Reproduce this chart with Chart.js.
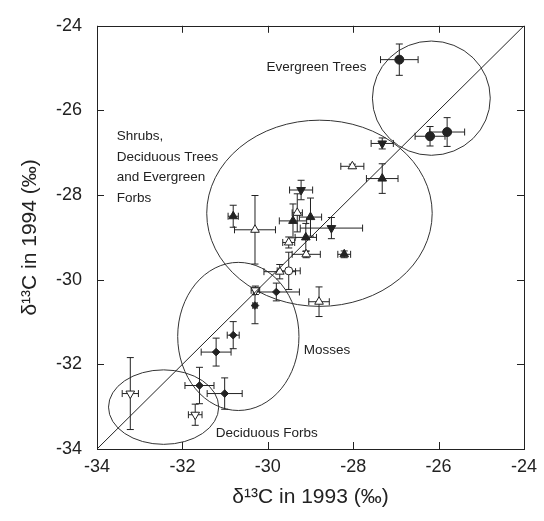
<!DOCTYPE html>
<html lang="en">
  <head>
    <meta charset="UTF-8" />
    <title>d13C 1993 vs 1994</title>
    <script src="https://cdn.jsdelivr.net/npm/chart.js"></script>
    <style>
      html, body { margin: 0; padding: 0; background: #fff; }
    </style>
  </head>
  <body>
    <div style="width: 544px; height: 521px">
      <canvas id="isoChart"></canvas>
    </div>
    <script>
      // axis range and ticks (per mil)
      const axisMin = -34;
      const axisMax = -24;
      const tickValues = [-34, -32, -30, -28, -26, -24];

      // evergreen trees (large filled circles)
      const evergreenX = [-26.92, -26.2, -25.8];
      const evergreenY = [-24.8, -26.61, -26.51];
      const evergreenXErr = [0.44, 0.35, 0.41];
      const evergreenYErr = [0.37, 0.23, 0.34];

      // filled up-triangles
      const filledUpX = [-27.32, -30.81, -29.41, -29.0, -29.11, -28.21];
      const filledUpY = [-27.61, -28.5, -28.61, -28.52, -29.0, -29.4];
      const filledUpXErr = [0.37, 0.12, 0.32, 0.26, 0.25, 0.15];
      const filledUpYErr = [0.35, 0.26, 0.4, 0.45, 0.33, 0.08];

      // filled down-triangles
      const filledDownX = [-27.32, -29.22, -28.51];
      const filledDownY = [-26.78, -27.88, -28.78];
      const filledDownXErr = [0.26, 0.27, 0.73];
      const filledDownYErr = [0.13, 0.23, 0.25];

      // open up-triangles
      const openUpX = [-28.02, -30.3, -29.31, -29.51, -29.1, -29.72, -28.8];
      const openUpY = [-27.32, -28.82, -28.42, -29.12, -29.4, -29.81, -30.52];
      const openUpXErr = [0.27, 0.48, 0.12, 0.14, 0.33, 0.37, 0.24];
      const openUpYErr = [0.05, 0.81, 0.45, 0.13, 0.08, 0.17, 0.35];

      // open circle
      const openCircleX = [-29.51];
      const openCircleY = [-29.79];
      const openCircleXErr = [0.27];
      const openCircleYErr = [0.44];

      // open down-triangles (deciduous forbs and one moss-line point)
      const openDownX = [-30.29, -33.22, -31.7];
      const openDownY = [-30.25, -32.69, -33.19];
      const openDownXErr = [0.1, 0.19, 0.16];
      const openDownYErr = [0.1, 0.85, 0.25];

      // mosses (filled diamonds)
      const mossX = [-29.8, -30.3, -30.81, -31.21, -31.6, -31.01];
      const mossY = [-30.29, -30.61, -31.31, -31.71, -32.5, -32.69];
      const mossXErr = [0.54, 0.05, 0.14, 0.35, 0.34, 0.41];
      const mossYErr = [0.21, 0.43, 0.32, 0.33, 0.43, 0.37];

      // group ellipses: centre x, centre y, radius x, radius y (data units)
      const groupEllipses = [
        [-26.17, -25.71, 1.38, 1.35],
        [-28.79, -28.43, 2.64, 2.2],
        [-30.69, -31.34, 1.42, 1.75],
        [-32.44, -33.01, 1.29, 0.88],
      ];

      // group labels: lines of text, left x, centre y of first line (data units)
      const groupLabels = [
        [["Evergreen Trees"], -30.03, -24.98],
        [["Shrubs,", "Deciduous Trees", "and Evergreen", "Forbs"], -33.54, -26.62],
        [["Mosses"], -29.16, -31.67],
        [["Deciduous Forbs"], -31.22, -33.62],
      ];

      const ink = "#222";

      function toPoints(xs, ys) {
        return xs.map((x, i) => ({ x: x, y: ys[i] }));
      }

      // datasets built from the arrays above
      const series = [
        { xs: evergreenX, ys: evergreenY, ex: evergreenXErr, ey: evergreenYErr, style: "circle", r: 4.5, fill: ink, rot: 0 },
        { xs: filledUpX, ys: filledUpY, ex: filledUpXErr, ey: filledUpYErr, style: "triangle", r: 5, fill: ink, rot: 0 },
        { xs: filledDownX, ys: filledDownY, ex: filledDownXErr, ey: filledDownYErr, style: "triangle", r: 5, fill: ink, rot: 180 },
        { xs: openUpX, ys: openUpY, ex: openUpXErr, ey: openUpYErr, style: "triangle", r: 5, fill: "#fff", rot: 0 },
        { xs: openCircleX, ys: openCircleY, ex: openCircleXErr, ey: openCircleYErr, style: "circle", r: 4, fill: "#fff", rot: 0 },
        { xs: openDownX, ys: openDownY, ex: openDownXErr, ey: openDownYErr, style: "triangle", r: 5, fill: "#fff", rot: 180 },
        { xs: mossX, ys: mossY, ex: mossXErr, ey: mossYErr, style: "rectRot", r: 3.8, fill: ink, rot: 0 },
      ];

      const datasets = series.map((s) => ({
        data: toPoints(s.xs, s.ys),
        pointStyle: s.style,
        pointRadius: s.r,
        pointRotation: s.rot,
        pointBackgroundColor: s.fill,
        pointBorderColor: ink,
        pointBorderWidth: 1,
        showLine: false,
        errX: s.ex,
        errY: s.ey,
      }));

      // 1:1 line across the whole axis range
      datasets.unshift({
        data: toPoints([axisMin, axisMax], [axisMin, axisMax]),
        showLine: true,
        borderColor: ink,
        borderWidth: 1,
        pointRadius: 0,
      });

      // error bars, ellipses, frame and inward ticks
      const decorPlugin = {
        id: "decor",
        beforeDatasetsDraw(chart) {
          const ctx = chart.ctx;
          const xs = chart.scales.x;
          const ys = chart.scales.y;
          ctx.save();
          ctx.strokeStyle = "#333";
          ctx.lineWidth = 1;
          groupEllipses.forEach((e) => {
            const cx = xs.getPixelForValue(e[0]);
            const cy = ys.getPixelForValue(e[1]);
            const rx = Math.abs(xs.getPixelForValue(e[0] + e[2]) - cx);
            const ry = Math.abs(ys.getPixelForValue(e[1] + e[3]) - cy);
            ctx.beginPath();
            ctx.ellipse(cx, cy, rx, ry, 0, 0, Math.PI * 2);
            ctx.stroke();
          });

          // error bars
          ctx.strokeStyle = ink;
          const cap = 3.5;
          chart.data.datasets.forEach((ds) => {
            if (!ds.errX) return;
            ds.data.forEach((p, i) => {
              const px = xs.getPixelForValue(p.x);
              const py = ys.getPixelForValue(p.y);
              const x0 = xs.getPixelForValue(p.x - ds.errX[i]);
              const x1 = xs.getPixelForValue(p.x + ds.errX[i]);
              const y0 = ys.getPixelForValue(p.y - ds.errY[i]);
              const y1 = ys.getPixelForValue(p.y + ds.errY[i]);
              ctx.beginPath();
              ctx.moveTo(x0, py); ctx.lineTo(x1, py);
              ctx.moveTo(x0, py - cap); ctx.lineTo(x0, py + cap);
              ctx.moveTo(x1, py - cap); ctx.lineTo(x1, py + cap);
              ctx.moveTo(px, y0); ctx.lineTo(px, y1);
              ctx.moveTo(px - cap, y0); ctx.lineTo(px + cap, y0);
              ctx.moveTo(px - cap, y1); ctx.lineTo(px + cap, y1);
              ctx.stroke();
            });
          });
          ctx.restore();
        },
        afterDraw(chart) {
          const ctx = chart.ctx;
          const xs = chart.scales.x;
          const ys = chart.scales.y;
          const a = chart.chartArea;
          ctx.save();
          ctx.strokeStyle = ink;
          ctx.lineWidth = 1;
          ctx.strokeRect(Math.round(a.left) + 0.5, Math.round(a.top) + 0.5,
            Math.round(a.right - a.left), Math.round(a.bottom - a.top));
          const tl = 7;
          ctx.beginPath();
          tickValues.forEach((v) => {
            const px = Math.round(xs.getPixelForValue(v)) + 0.5;
            const py = Math.round(ys.getPixelForValue(v)) + 0.5;
            ctx.moveTo(px, a.bottom); ctx.lineTo(px, a.bottom - tl);
            ctx.moveTo(px, a.top); ctx.lineTo(px, a.top + tl);
            ctx.moveTo(a.left, py); ctx.lineTo(a.left + tl, py);
            ctx.moveTo(a.right, py); ctx.lineTo(a.right - tl, py);
          });
          ctx.stroke();

          // group labels
          ctx.fillStyle = ink;
          ctx.font = "13.5px 'Liberation Sans', Arial, sans-serif";
          ctx.textAlign = "left";
          ctx.textBaseline = "middle";
          groupLabels.forEach((g) => {
            const lx = xs.getPixelForValue(g[1]);
            const ly = ys.getPixelForValue(g[2]);
            g[0].forEach((line, k) => ctx.fillText(line, lx, ly + k * 20.4));
          });
          ctx.restore();
        },
      };

      const fontFamily = "'Liberation Sans', Arial, sans-serif";

      new Chart(document.getElementById("isoChart"), {
        type: "scatter",
        data: { datasets: datasets },
        options: {
          responsive: true,
          maintainAspectRatio: false,
          animation: false,
          layout: { padding: { left: 0, right: 16, top: 16, bottom: 0 } },
          plugins: {
            legend: { display: false },
            tooltip: { enabled: false },
          },
          scales: {
            x: {
              type: "linear",
              min: axisMin,
              max: axisMax,
              afterFit: (scale) => { scale.height = 72; },
              afterBuildTicks: (scale) => { scale.ticks = tickValues.map((v) => ({ value: v })); },
              grid: { display: false, drawTicks: false },
              border: { display: false },
              ticks: { color: ink, font: { size: 18, family: fontFamily }, padding: 7, maxRotation: 0, autoSkip: false },
              title: {
                display: true,
                text: "δ¹³C in 1993 (‰)",
                color: ink,
                font: { size: 21, family: fontFamily },
                padding: { top: 0, bottom: 11 },
              },
            },
            y: {
              type: "linear",
              min: axisMin,
              max: axisMax,
              afterFit: (scale) => { scale.width = 97; },
              afterBuildTicks: (scale) => { scale.ticks = tickValues.map((v) => ({ value: v })); },
              grid: { display: false, drawTicks: false },
              border: { display: false },
              ticks: { color: ink, font: { size: 18, family: fontFamily }, padding: 15, autoSkip: false },
              title: {
                display: true,
                text: "δ¹³C in 1994 (‰)",
                color: ink,
                font: { size: 21, family: fontFamily },
                padding: { top: 18, bottom: 0 },
              },
            },
          },
        },
        plugins: [decorPlugin],
      });
    </script>
  </body>
</html>
